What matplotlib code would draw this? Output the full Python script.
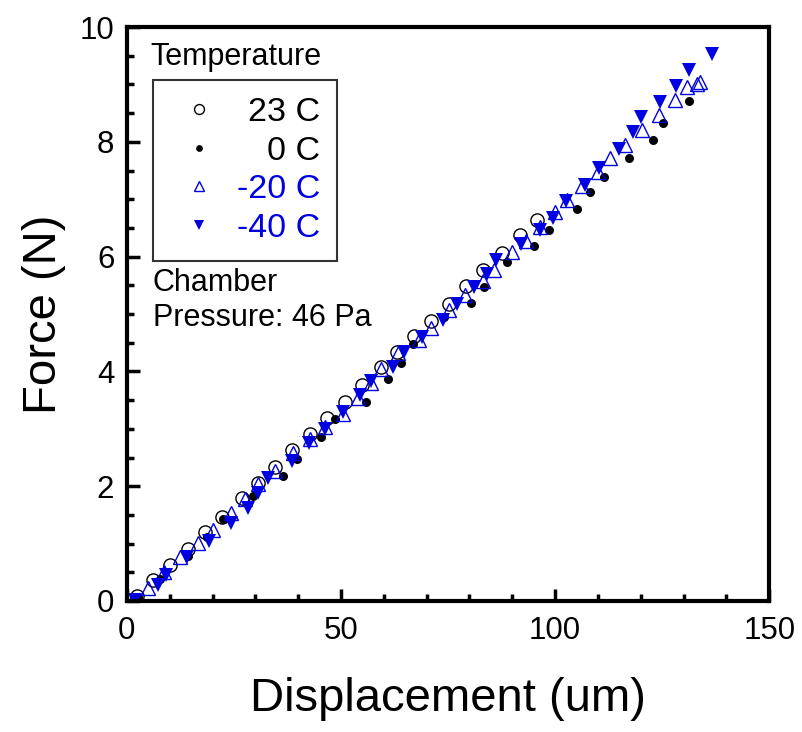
import matplotlib
matplotlib.use('Agg')
import matplotlib.pyplot as plt
from matplotlib.ticker import MultipleLocator

plt.rcParams['font.family'] = ['Liberation Sans', 'DejaVu Sans']

# 23 C
disp_23 = [2.3, 6.1, 10.0, 14.3, 18.2, 22.2, 26.9, 30.6, 34.6, 38.6, 42.8, 46.7,
           50.9, 54.9, 59.3, 63.1, 67.1, 71.0, 75.2, 79.2, 83.2, 87.6, 91.8, 95.8]
force_23 = [0.09, 0.37, 0.63, 0.91, 1.20, 1.46, 1.79, 2.06, 2.33, 2.63, 2.91, 3.19,
            3.47, 3.76, 4.08, 4.34, 4.62, 4.88, 5.17, 5.49, 5.77, 6.06, 6.38, 6.64]

# 0 C
disp_0 = [2.6, 7.7, 14.3, 18.7, 22.4, 29.4, 36.4, 39.7, 45.3, 48.6, 55.8, 61.0,
          64.0, 66.8, 74.1, 80.4, 83.4, 88.8, 95.1, 98.6, 105.1, 108.2, 111.4,
          117.3, 122.9, 125.2, 131.3]
force_0 = [0.07, 0.38, 0.78, 1.11, 1.43, 1.83, 2.18, 2.47, 2.86, 3.17, 3.47, 3.87,
           4.15, 4.48, 4.95, 5.19, 5.47, 5.91, 6.18, 6.46, 6.83, 7.13, 7.39,
           7.72, 8.03, 8.33, 8.71]

# -20 C
disp_m20 = [1.4, 4.9, 8.6, 12.4, 16.6, 20.1, 24.3, 27.6, 30.6, 34.6, 38.8, 42.8,
            46.3, 50.5, 54.0, 57.0, 59.3, 63.3, 68.2, 71.0, 75.2, 79.0, 83.2, 85.7,
            89.9, 93.2, 96.5, 100.0, 102.8, 106.3, 110.0, 112.9, 116.4, 120.3,
            124.3, 128.0, 130.8, 133.2, 133.9]
force_m20 = [0.02, 0.23, 0.51, 0.77, 1.01, 1.24, 1.53, 1.78, 2.04, 2.26, 2.58, 2.82,
             3.03, 3.26, 3.54, 3.80, 4.04, 4.32, 4.55, 4.76, 5.07, 5.33, 5.57, 5.77,
             6.08, 6.27, 6.52, 6.78, 6.99, 7.23, 7.47, 7.72, 7.94, 8.21,
             8.47, 8.73, 8.95, 9.01, 9.04]

# -40 C
disp_m40 = [1.9, 7.2, 9.1, 14.0, 19.2, 24.3, 28.3, 30.6, 32.9, 38.6, 42.5, 46.3,
            50.5, 54.4, 57.0, 62.1, 64.7, 68.9, 73.8, 77.1, 81.1, 84.1, 86.2, 92.1,
            96.5, 99.5, 102.6, 107.0, 110.3, 115.0, 118.2, 120.1, 124.5, 128.3,
            131.3, 136.7]
force_m40 = [0.02, 0.28, 0.45, 0.77, 1.05, 1.36, 1.62, 1.88, 2.14, 2.44, 2.75, 3.00,
             3.29, 3.59, 3.83, 4.08, 4.34, 4.60, 4.90, 5.17, 5.47, 5.70, 5.94, 6.22,
             6.46, 6.67, 6.97, 7.25, 7.54, 7.87, 8.17, 8.43, 8.69, 8.97,
             9.25, 9.53]

labels = ['23 C', '0 C', '-20 C', '-40 C']
blue = '#0000e0'

fig = plt.figure(figsize=(8.03, 7.32), dpi=100)
ax = fig.add_axes([0.158, 0.179, 0.800, 0.784])

ax.plot(disp_23, force_23, 'o', ms=9.5, mfc='none', mec='black', mew=1.0, label=labels[0])
ax.plot(disp_0, force_0, 'o', ms=6.5, mfc='black', mec='black', mew=0, label=labels[1])
ax.plot(disp_m20, force_m20, '^', ms=9.5, mfc='none', mec=blue, mew=1.0, label=labels[2])
ax.plot(disp_m40, force_m40, 'v', ms=10, mfc=blue, mec=blue, mew=0, label=labels[3])

ax.set_xlim(0, 150)
ax.set_ylim(0, 10)
ax.xaxis.set_major_locator(MultipleLocator(50))
ax.xaxis.set_minor_locator(MultipleLocator(10))
ax.yaxis.set_major_locator(MultipleLocator(2))
ax.yaxis.set_minor_locator(MultipleLocator(0.5))
ax.tick_params(which='both', direction='in', top=False, right=False, labelsize=22.5)
ax.tick_params(which='major', length=9, width=2.5, pad=9)
ax.tick_params(which='minor', length=5, width=2.5)
ax.tick_params(axis='x', which='major', pad=11)
for s in ax.spines.values():
    s.set_linewidth(3)

ax.set_xlabel('Displacement (um)', fontsize=34, labelpad=22)
ax.set_ylabel('Force (N)', fontsize=34, labelpad=10)

leg = ax.legend(loc='upper left', bbox_to_anchor=(0.0405, 0.9077), borderaxespad=0,
                fontsize=24.5, frameon=True, fancybox=False, edgecolor='black',
                markerscale=0.75, labelspacing=0.22, handlelength=1.7,
                handletextpad=0.26, borderpad=0.5)
leg.get_frame().set_linewidth(1.5)
texts = leg.get_texts()
for t, c in zip(texts, ['black', 'black', blue, blue]):
    t.set_color(c)

ax.text(0.036, 0.948, 'Temperature', transform=ax.transAxes, fontsize=22,
        ha='left', va='center')
ax.text(0.0405, 0.524, 'Chamber\nPressure: 46 Pa', transform=ax.transAxes,
        fontsize=22, ha='left', va='center', linespacing=1.2)

# right-align the legend labels
fig.canvas.draw()
widths = [t.get_window_extent().width for t in texts]
wmax = max(widths)
for t, w in zip(texts, widths):
    t.set_x(wmax - w)

fig.savefig('out.png', dpi=100)
